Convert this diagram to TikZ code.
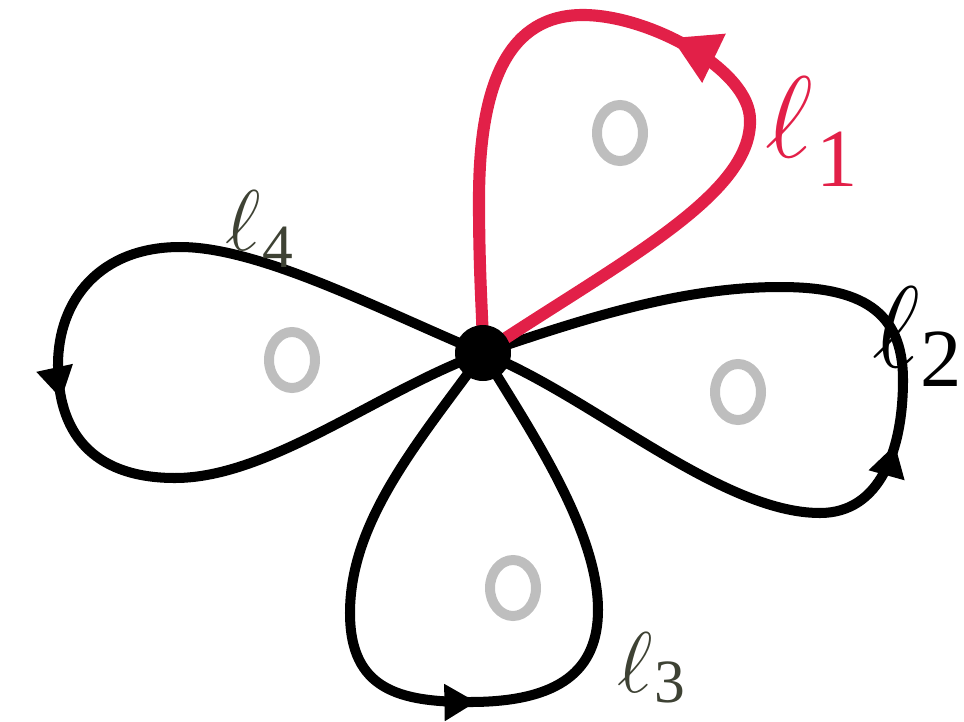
\RequirePackage{fix-cm}
\documentclass[tikz,border=0pt]{standalone}
\usepackage{fontspec}
\setmainfont{Liberation Serif}
\usetikzlibrary{arrows.meta, decorations.markings}

\definecolor{loopred}{RGB}{226,32,72}
\definecolor{holegray}{RGB}{190,190,190}
\definecolor{labdark}{RGB}{62,66,52}

\newcommand{\subbig}{\fontsize{47}{47}\selectfont}
\newcommand{\subsmall}{\fontsize{35}{35}\selectfont}

\begin{document}
\begin{tikzpicture}[x=0.02cm, y=-0.02cm,
    loopline/.style={line width=5.7pt, line join=round},
    redline/.style={line width=6.9pt, line join=round, loopred},
    midarrow/.style={postaction={decorate, decoration={markings,
        mark=at position #1 with {\arrow{Triangle[length=0.64cm, width=0.7cm]}}}}},
    redarrow/.style={postaction={decorate, decoration={markings,
        mark=at position #1 with {\arrow{Triangle[length=0.95cm, width=1.02cm]}}}}},
    hole/.style={holegray, line width=0.2cm},
    hub/.style={circle, fill=black, minimum size=1.12cm, inner sep=0pt},
    biglab/.style={font=\fontsize{66}{66}\selectfont, anchor=base west, inner sep=0pt},
    smalllab/.style={font=\fontsize{49}{49}\selectfont, anchor=base west, inner sep=0pt}]
  \useasboundingbox (0,0) rectangle (964,721);

  % base point
  \coordinate (o) at (483,353);

  % punctures
  \draw[hole] (620,133) ellipse [x radius=23, y radius=28];
  \draw[hole] (292,360) ellipse [x radius=23, y radius=28];
  \draw[hole] (738,392) ellipse [x radius=23, y radius=28];
  \draw[hole] (513,588) ellipse [x radius=23, y radius=28];

  % loop 4 (left)
  \draw[loopline, midarrow=0.53] (o) .. controls (380,310) and (260,247) .. (180,247)
    .. controls (100,247) and (58,300) .. (58,365)
    .. controls (58,440) and (100,478) .. (175,478)
    .. controls (270,478) and (380,390) .. (o);

  % loop 3 (bottom)
  \draw[loopline, midarrow=0.51] (o) .. controls (420,440) and (350,520) .. (350,613)
    .. controls (350,690) and (400,702) .. (470,702)
    .. controls (560,702) and (598,670) .. (598,610)
    .. controls (598,530) and (530,430) .. (o);

  % loop 2 (right)
  \draw[loopline, midarrow=0.47] (o) .. controls (590,395) and (720,513) .. (820,513)
    .. controls (880,513) and (903,450) .. (903,380)
    .. controls (903,310) and (860,287) .. (780,287)
    .. controls (680,287) and (580,320) .. (o);

  % loop 1 (top, red)
  \draw[redline, redarrow=0.5] (o) .. controls (620,262) and (752,195) .. (750,120)
    .. controls (750,70) and (650,15) .. (583,15)
    .. controls (510,15) and (479,80) .. (479,200)
    .. controls (479,280) and (483,320) .. (o);

  \node[hub] (hub) at (o) {};

  % labels
  \node[biglab, text=loopred] (lab1) at (765,157) {$\ell$\hspace{2pt}\raisebox{-17pt}{\subbig 1}};
  \node[biglab] (lab2) at (872,367) {$\ell$\raisebox{-11pt}{\subbig 2}};
  \node[smalllab, text=labdark] (lab3) at (617,692) {$\ell$\hspace{1pt}\raisebox{-6pt}{\subsmall 3}};
  \node[smalllab, text=labdark] (lab4) at (225,250) {$\ell$\hspace{1pt}\raisebox{-10pt}{\subsmall 4}};
\end{tikzpicture}
\end{document}
